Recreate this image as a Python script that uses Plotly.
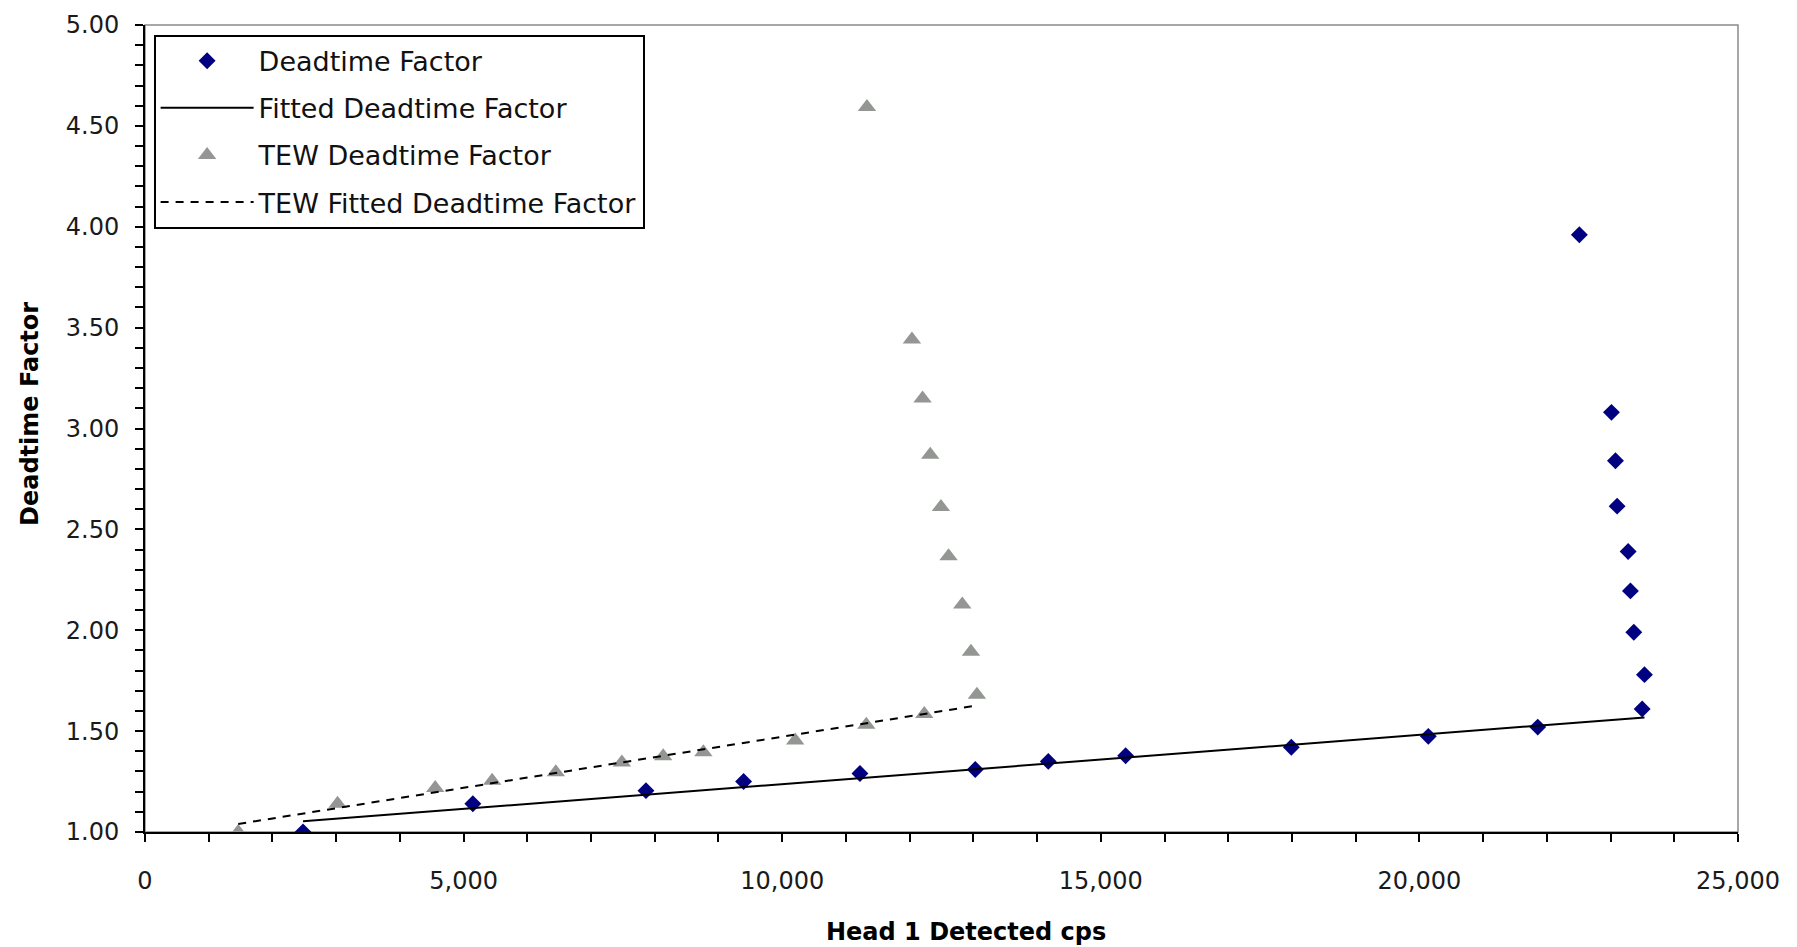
import plotly.graph_objects as go

# Head 1: measured deadtime factor vs detected count rate
dt_cps = [2480, 5145, 7862, 9394, 11220, 13030, 14176, 15390, 17990, 20140,
          21857, 22510, 23014, 23077, 23103, 23276, 23312, 23365, 23532, 23496]
dt_factor = [1.00, 1.14, 1.205, 1.25, 1.29, 1.31, 1.35, 1.378, 1.42, 1.474,
             1.52, 3.96, 3.08, 2.84, 2.615, 2.39, 2.195, 1.99, 1.78, 1.61]

# Linear fit to the low-rate region
fit_cps = [2480, 23532]
fit_factor = [1.053, 1.568]

# TEW (triple energy window) deadtime factor
tew_cps = [1463, 3022, 4555, 5448, 6447, 7484, 8132, 8763, 10204, 11320,
           12230, 13056, 12962, 12826, 12611, 12491, 12323, 12203, 12036, 11330]
tew_factor = [1.00, 1.14, 1.218, 1.254, 1.296, 1.345, 1.375, 1.395, 1.453, 1.532,
              1.585, 1.68, 1.893, 2.128, 2.367, 2.611, 2.87, 3.149, 3.441, 4.593]

tew_fit_cps = [1463, 13057]
tew_fit_factor = [1.04, 1.627]

FONT = "DejaVu Sans"

fig = go.Figure()
fig.add_trace(go.Scatter(
    x=dt_cps, y=dt_factor, mode="markers", name="Deadtime Factor",
    legendgroup="a",
    marker=dict(symbol="diamond", size=13, color="#000080"),
))
fig.add_trace(go.Scatter(
    x=fit_cps, y=fit_factor, mode="lines", name="Fitted Deadtime Factor",
    legendgroup="b",
    line=dict(color="black", width=2),
))
fig.add_trace(go.Scatter(
    x=tew_cps, y=tew_factor, mode="markers", name="TEW Deadtime Factor",
    legendgroup="c",
    marker=dict(symbol="triangle-up", size=16, color="#939693"),
))
fig.add_trace(go.Scatter(
    x=tew_fit_cps, y=tew_fit_factor, mode="lines", name="TEW Fitted Deadtime Factor",
    legendgroup="d",
    line=dict(color="black", width=2, dash="8px,7px"),
))

fig.update_layout(
    width=1797, height=947,
    margin=dict(l=145, r=59, t=25, b=115),
    paper_bgcolor="white", plot_bgcolor="white",
    font=dict(family=FONT, size=24, color="#1a1a1a"),
    showlegend=True,
    legend=dict(
        x=0.0054, y=0.988, xanchor="left", yanchor="top",
        bgcolor="white", bordercolor="black", borderwidth=2,
        font=dict(family=FONT, size=27, color="#111"),
        itemwidth=93, tracegroupgap=9,
        traceorder="grouped",
    ),
    xaxis=dict(
        range=[0, 25000], dtick=5000, tickformat=",",
        showgrid=False, zeroline=False,
        showline=True, linecolor="black", linewidth=2,
        ticks="outside", ticklen=8, tickwidth=1.5, tickcolor="black",
        ticklabelstandoff=18,
        minor=dict(dtick=1000, ticks="outside", ticklen=8, tickwidth=1.5,
                   tickcolor="black", showgrid=False),
    ),
    yaxis=dict(
        range=[1, 5], dtick=0.5, tickformat=".2f",
        showgrid=False, zeroline=False,
        showline=True, linecolor="black", linewidth=2,
        ticks="outside", ticklen=8, tickwidth=1.5, tickcolor="black",
        ticklabelstandoff=11,
        minor=dict(dtick=0.1, ticks="outside", ticklen=8, tickwidth=1.5,
                   tickcolor="black", showgrid=False),
    ),
    shapes=[dict(
        type="rect", xref="paper", yref="paper", x0=0, y0=0, x1=1, y1=1,
        line=dict(color="#8a8a8a", width=1.5), layer="below",
    )],
    annotations=[
        dict(text="<b>Head 1 Detected cps</b>", xref="paper", yref="paper",
             x=0.5154, y=-0.1239, xanchor="center", yanchor="middle",
             showarrow=False, font=dict(family=FONT, size=24, color="black")),
        dict(text="<b>Deadtime Factor</b>", xref="paper", yref="paper",
             x=-0.0722, y=0.518, xanchor="center", yanchor="middle",
             textangle=-90, showarrow=False,
             font=dict(family=FONT, size=24, color="black")),
    ],
)

fig.write_html("out.html")
